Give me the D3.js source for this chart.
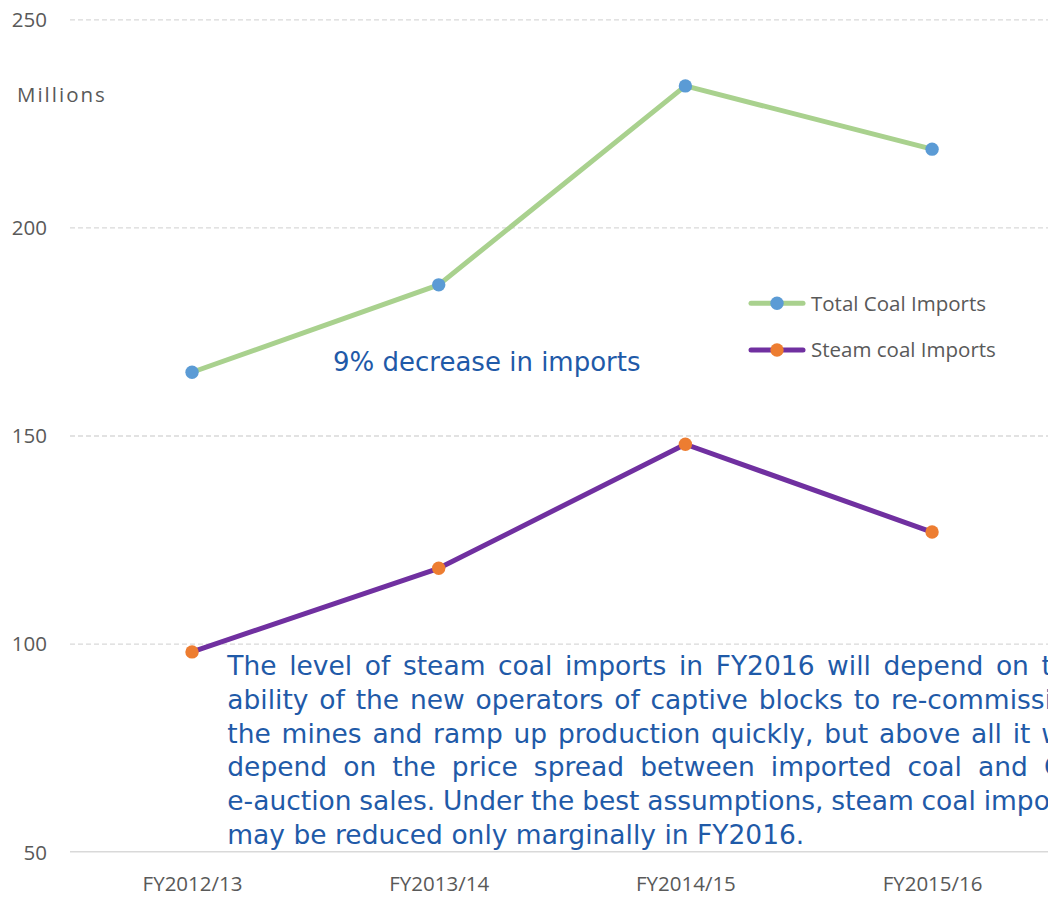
<!DOCTYPE html>
<html>
<head>
<meta charset="utf-8">
<script src="https://cdn.jsdelivr.net/npm/d3@7"></script>
<style>
  html, body { margin: 0; padding: 0; background: #fff; }
  svg { display: block; }
</style>
</head>
<body>
<script>
// Coal imports, millions of tonnes
const categories = ["FY2012/13", "FY2013/14", "FY2014/15", "FY2015/16"];
const totalImports = [165.2, 186.2, 234.0, 218.8];
const steamImports = [98.0, 118.1, 147.9, 126.8];
const yTicks = [50, 100, 150, 200, 250];
const seriesNames = ["Total Coal Imports", "Steam coal Imports"];
const unitLabel = "Millions";
const calloutText = "9% decrease in imports";
const noteLines = [
  "The level of steam coal imports in FY2016 will depend on the",
  "ability of the new operators of captive blocks to re-commission",
  "the mines and ramp up production quickly, but above all it will",
  "depend on the price spread between imported coal and CIL",
  "e-auction sales. Under the best assumptions, steam coal imports",
  "may be reduced only marginally in FY2016."
];

const W = 1048, H = 897;
const svg = d3.select("body").append("svg").attr("width", W).attr("height", H);

const x = d3.scalePoint().domain(categories).range([68.7, 1055.4]).padding(0.5);
const y = d3.scaleLinear().domain([50, 250]).range([851.7, 19.3]);

const labelFont = "'Open Sans', sans-serif";
const labelColor = "#595959";

// Horizontal gridlines
const gridAxis = d3.axisLeft(y).tickValues(yTicks.filter(t => t !== 50)).tickSize(-(W + 20 - 70)).tickFormat("");
const grid = svg.append("g").attr("transform", "translate(70,0)").call(gridAxis);
grid.select(".domain").remove();
grid.selectAll("line").attr("stroke", "#d9d9d9").attr("stroke-width", 1.3).attr("stroke-dasharray", "5,3");

// Category axis baseline and labels
const xAxis = d3.axisBottom(x).tickSize(0).tickPadding(0);
const xg = svg.append("g").attr("transform", `translate(0,${y(50)})`).call(xAxis);
xg.select(".domain").attr("d", `M70,0H${W + 20}`).attr("stroke", "#d9d9d9").attr("stroke-width", 1.6);
xg.selectAll("text")
  .attr("dy", null).attr("y", 39.5)
  .attr("font-family", labelFont).attr("font-size", 20.5).attr("fill", labelColor);

// Value axis labels
const yAxis = d3.axisLeft(y).tickValues(yTicks).tickSize(0).tickPadding(0);
const yg = svg.append("g").attr("transform", "translate(47,0)").call(yAxis);
yg.select(".domain").remove();
yg.selectAll("text")
  .attr("font-family", labelFont).attr("font-size", 20.5).attr("fill", labelColor)
  .attr("dy", "0.36em");

svg.append("text")
  .attr("x", 17).attr("y", 102)
  .attr("font-family", labelFont).attr("font-size", 20.5).attr("fill", labelColor)
  .attr("letter-spacing", 2)
  .text(unitLabel);

// Series
const series = [
  { name: seriesNames[0], values: totalImports, line: "#a9d18e", marker: "#5b9bd5" },
  { name: seriesNames[1], values: steamImports, line: "#7030a0", marker: "#ed7d31" }
];

const lineGen = d3.line()
  .x((d, i) => x(categories[i]))
  .y(d => y(d));

series.forEach(s => {
  svg.append("path")
    .attr("d", lineGen(s.values))
    .attr("fill", "none")
    .attr("stroke", s.line)
    .attr("stroke-width", 5)
    .attr("stroke-linejoin", "round")
    .attr("stroke-linecap", "round");
  svg.selectAll(null).data(s.values).enter().append("circle")
    .attr("cx", (d, i) => x(categories[i]))
    .attr("cy", d => y(d))
    .attr("r", 6.7)
    .attr("fill", s.marker);
});

// Legend
const legendY = [303.3, 350];
series.forEach((s, i) => {
  const g = svg.append("g").attr("transform", `translate(749,${legendY[i]})`);
  g.append("line").attr("x1", 2).attr("x2", 54).attr("y1", 0).attr("y2", 0)
    .attr("stroke", s.line).attr("stroke-width", 5).attr("stroke-linecap", "round");
  g.append("circle").attr("cx", 28).attr("cy", 0).attr("r", 6.7).attr("fill", s.marker);
  g.append("text").attr("x", 62).attr("y", 7.3)
    .attr("font-family", labelFont).attr("font-size", 20.5).attr("fill", labelColor)
    .text(s.name);
});

// Callout
const noteFont = "'DejaVu Sans', sans-serif";
const noteColor = "#1f5aa8";
svg.append("text")
  .attr("x", 333).attr("y", 371)
  .attr("font-family", noteFont).attr("font-size", 26).attr("fill", noteColor)
  .text(calloutText);

// Justified commentary block (runs past the right edge of the chart area)
const boxLeft = 227.3, boxRight = 1085, lineStep = 33.8, firstBase = 675;
const noteSize = 26.5;
const note = svg.append("g")
  .attr("font-family", noteFont).attr("font-size", noteSize).attr("fill", noteColor);

const measurer = svg.append("text").attr("font-family", noteFont).attr("font-size", noteSize)
  .attr("visibility", "hidden");
const measure = str => { measurer.text(str); return measurer.node().getComputedTextLength(); };
const spaceW = measure("a a") - measure("aa");

noteLines.forEach((ln, li) => {
  const words = ln.split(" ");
  const widths = words.map(measure);
  const base = firstBase + li * lineStep;
  const last = li === noteLines.length - 1;
  const total = d3.sum(widths);
  const gap = last || words.length < 2 ? spaceW : Math.max(spaceW * 0.6, (boxRight - boxLeft - total) / (words.length - 1));
  let cx = boxLeft;
  words.forEach((w, wi) => {
    note.append("text").attr("x", cx).attr("y", base).text(w);
    cx += widths[wi] + gap;
  });
});
measurer.remove();
</script>
</body>
</html>
